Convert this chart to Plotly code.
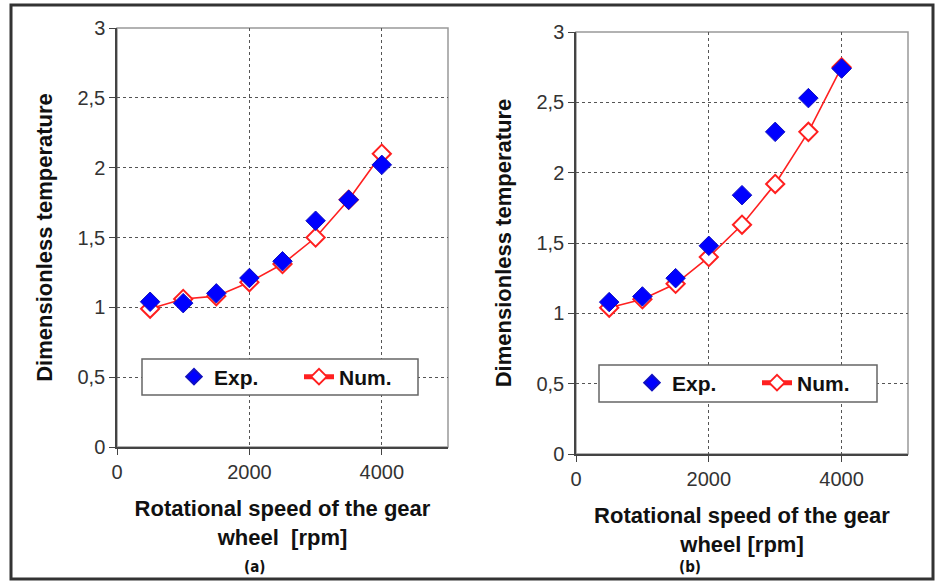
import plotly.graph_objects as go

rpm = [500, 1000, 1500, 2000, 2500, 3000, 3500, 4000]
a_exp = [1.04, 1.03, 1.10, 1.21, 1.33, 1.62, 1.77, 2.02]
a_num = [0.99, 1.06, 1.08, 1.18, 1.31, 1.50, 1.77, 2.10]
b_exp = [1.08, 1.12, 1.25, 1.48, 1.84, 2.29, 2.53, 2.74]
b_num = [1.04, 1.10, 1.21, 1.40, 1.63, 1.92, 2.29, 2.75]
y_ticks = [0, 0.5, 1, 1.5, 2, 2.5, 3]
y_ticktext = ["0", "0,5", "1", "1,5", "2", "2,5", "3"]
x_ticks = [0, 2000, 4000]
x_title = "Rotational speed of the gear<br>wheel  [rpm]"
x_title_b = "Rotational speed of the gear<br>wheel [rpm]"
y_title = "Dimensionless temperature"

W, H = 941, 581
FONT = "Liberation Sans, Arial, sans-serif"

fig = go.Figure()

def add_panel(xa, ya, exp, num, legend):
    fig.add_trace(go.Scatter(
        x=rpm, y=num, name="Num.", mode="lines+markers", xaxis=xa, yaxis=ya,
        line=dict(color="#ff2020", width=1.6),
        marker=dict(symbol="diamond", size=14, color="white",
                    line=dict(color="#ff2020", width=2)),
        legend=legend, legendrank=2))
    fig.add_trace(go.Scatter(
        x=rpm, y=exp, name="Exp.", mode="markers", xaxis=xa, yaxis=ya,
        marker=dict(symbol="diamond", size=15, color="#0000ff",
                    line=dict(color="#1010c0", width=1)),
        legend=legend, legendrank=1))

add_panel("x", "y", a_exp, a_num, "legend")
add_panel("x2", "y2", b_exp, b_num, "legend2")

def px_x(p):
    return p / W

def px_y(p):
    return 1 - p / H

axis_common = dict(showgrid=True, gridcolor="#555", griddash="dot", gridwidth=1,
                   showline=True, linecolor="#444", linewidth=1.5,
                   ticks="outside", ticklen=6, tickcolor="#444",
                   tickfont=dict(family=FONT, size=20, color="#333"),
                   zeroline=False, automargin=False)

xa = dict(axis_common, range=[0, 5000], tickvals=x_ticks,
          title=dict(text=x_title, font=dict(family=FONT, size=22, color="#111", weight="bold"), standoff=19))
ya = dict(axis_common, range=[0, 3], tickvals=y_ticks, ticktext=y_ticktext,
          title=dict(text=y_title, font=dict(family=FONT, size=22, color="#111", weight="bold"), standoff=19))

fig.update_layout(
    width=W, height=H, margin=dict(l=0, r=0, t=0, b=0, autoexpand=False),
    paper_bgcolor="white", plot_bgcolor="white",
    xaxis=dict(xa, domain=[px_x(117), px_x(448)], anchor="y"),
    yaxis=dict(ya, domain=[px_y(447), px_y(28)], anchor="x"),
    xaxis2=dict(xa, domain=[px_x(576), px_x(908)], anchor="y2",
                title=dict(xa["title"], text=x_title_b)),
    yaxis2=dict(ya, domain=[px_y(454), px_y(32)], anchor="x2"),
    legend=dict(x=px_x(174), y=px_y(377), xanchor="left", yanchor="middle",
                orientation="h", bgcolor="rgba(0,0,0,0)", itemsizing="constant",
                entrywidth=80, entrywidthmode="pixels",
                font=dict(family=FONT, size=21, color="#111", weight="bold")),
    legend2=dict(x=px_x(632), y=px_y(383), xanchor="left", yanchor="middle",
                 orientation="h", bgcolor="rgba(0,0,0,0)", itemsizing="constant",
                 entrywidth=80, entrywidthmode="pixels",
                 font=dict(family=FONT, size=21, color="#111", weight="bold")),
)

shapes = [
    # outer frame
    dict(type="rect", xref="paper", yref="paper", x0=px_x(11), x1=px_x(933),
         y0=px_y(579), y1=px_y(5), line=dict(color="#333", width=3), layer="above"),
    # plot area top/right border (light)
    dict(type="rect", xref="x domain", yref="y domain", x0=0, x1=1, y0=0, y1=1,
         line=dict(color="#999", width=1.5), layer="below"),
    dict(type="rect", xref="x2 domain", yref="y2 domain", x0=0, x1=1, y0=0, y1=1,
         line=dict(color="#999", width=1.5), layer="below"),
    # legend boxes
    dict(type="rect", xref="paper", yref="paper", x0=px_x(142), x1=px_x(418),
         y0=px_y(395), y1=px_y(359), line=dict(color="#666", width=1.5),
         fillcolor="white", layer="above"),
    dict(type="rect", xref="paper", yref="paper", x0=px_x(599), x1=px_x(877),
         y0=px_y(402), y1=px_y(365), line=dict(color="#666", width=1.5),
         fillcolor="white", layer="above"),
]
fig.update_layout(shapes=shapes)

label_font = dict(family="DejaVu Sans Condensed, Liberation Sans Narrow, sans-serif",
                  size=15, color="#111", weight="bold")
fig.add_annotation(text="(a)", x=px_x(242), y=px_y(567), xref="paper", yref="paper",
                   yanchor="middle", showarrow=False, font=label_font)
fig.add_annotation(text="(b)", x=px_x(703), y=px_y(567), xref="paper", yref="paper",
                   yanchor="middle", showarrow=False, font=label_font)

fig.write_html("out.html", config={"displayModeBar": False},
               post_script="document.body.style.margin='0px';")
